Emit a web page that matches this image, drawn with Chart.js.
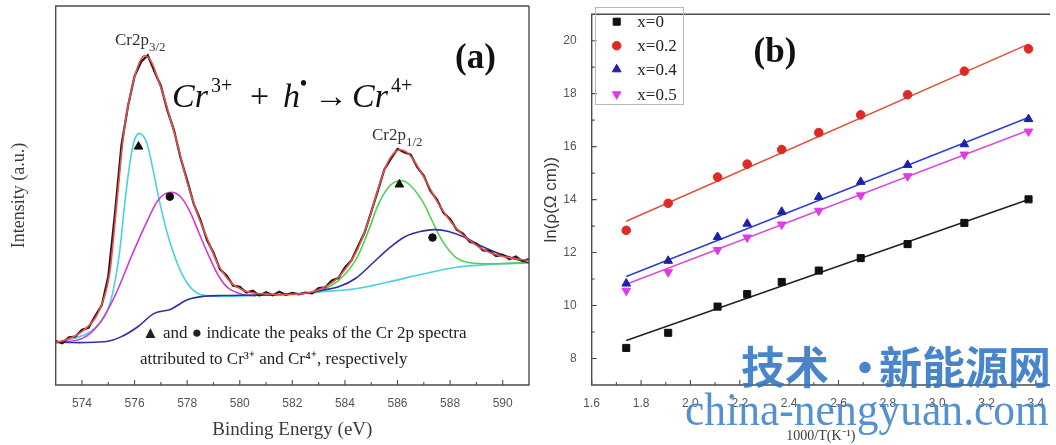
<!DOCTYPE html>
<html>
<head>
<meta charset="utf-8">
<script src="https://cdn.jsdelivr.net/npm/chart.js@4.4.0/dist/chart.umd.min.js"></script>
<style>
  html, body { margin: 0; padding: 0; background: #fff; }
  #wrap { position: relative; width: 1056px; height: 445px; overflow: hidden; }
  #chartA { position: absolute; left: 0; top: 0; }
  #chartB { position: absolute; left: 535px; top: 0; }
</style>
</head>
<body>
<div id="wrap">
  <canvas id="chartA" width="535" height="445"></canvas>
  <canvas id="chartB" width="521" height="445"></canvas>
</div>
<script>
// ---------- panel (a): Cr 2p spectrum ----------
const specEnergy = [573, 573.25, 573.5, 573.75, 574, 574.25, 574.5, 574.75, 575, 575.25, 575.5, 575.75,
  576, 576.25, 576.5, 576.75, 577, 577.25, 577.5, 577.75, 578, 578.25, 578.5, 578.75,
  579, 579.25, 579.5, 579.75, 580, 580.25, 580.5, 580.75, 581, 581.25, 581.5, 581.75,
  582, 582.25, 582.5, 582.75, 583, 583.25, 583.5, 583.75, 584, 584.25, 584.5, 584.75,
  585, 585.25, 585.5, 585.75, 586, 586.25, 586.5, 586.75, 587, 587.25, 587.5, 587.75,
  588, 588.25, 588.5, 588.75, 589, 589.25, 589.5, 589.75, 590, 590.25, 590.5, 590.75, 591];
const specCounts = [11.6, 11.0, 12.6, 12.8, 14.6, 15.1, 18.2, 21.0, 28.6, 45.0, 63.2, 73.6,
  81.5, 85.3, 87.0, 82.8, 78.9, 72.4, 67.2, 59.9, 54.0, 47.8, 43.6, 38.3,
  34.9, 30.5, 28.9, 26.2, 25.9, 24.4, 24.9, 23.6, 24.5, 23.7, 24.6, 23.8,
  24.3, 23.9, 24.4, 24.2, 25.6, 25.8, 27.6, 28.2, 31.0, 32.9, 36.6, 40.3,
  45.7, 51.2, 56.9, 59.7, 62.3, 61.4, 60.8, 57.5, 55.2, 51.2, 48.9, 45.4,
  43.8, 41.0, 39.9, 37.7, 37.3, 35.5, 35.4, 34.0, 34.4, 33.2, 33.9, 32.7, 33.2];

const fitEnergy = [573, 573.5, 574, 574.5, 574.85, 575.05, 575.16, 575.29, 575.42, 575.54, 575.67, 575.86,
  576.11, 576.36, 576.62, 576.87, 577.12, 577.38, 577.63, 578, 578.4, 578.8, 579.2, 579.7,
  580.2, 580.6, 581.6, 582.4, 583.1, 583.76, 584.4, 584.9, 585.28, 585.66, 586.04, 586.42,
  586.93, 587.56, 588.19, 588.82, 589.46, 590.09, 590.91, 591];
const fitCounts = [11.2, 12.2, 14.1, 17.6, 23.2, 29.4, 36, 45.5, 55, 63.5, 70.5, 77.3,
  83.8, 86.9, 85.5, 81.1, 75.9, 69.7, 63.6, 53.5, 45.0, 38.0, 31.5, 26.8,
  24.8, 24.2, 23.9, 24.1, 25.4, 28.5, 34.7, 43.4, 52.2, 59.2, 62.0, 61.0,
  55.7, 47.8, 41.7, 37.7, 35.1, 33.8, 32.9, 32.8];

const cr3aEnergy = [573, 574.21, 574.85, 575.16, 575.42, 575.61, 575.8, 575.99, 576.18, 576.43, 576.68, 576.94,
  577.25, 577.63, 578.01, 578.39, 578.8, 579.5, 580.5, 581.87, 583.13, 584.4, 585.66, 586.93,
  588.19, 589.46, 590.91, 591];
const cr3aCounts = [11.2, 13.6, 18.0, 24.1, 34.6, 46.9, 57.5, 64.5, 66.4, 64.5, 57.5, 48.7,
  39.9, 32.0, 26.8, 24.2, 23.5, 23.4, 23.6, 24.0, 24.6, 25.4, 27.2, 29.2,
  31.0, 31.8, 32.2, 32.2];

const cr4aEnergy = [573, 574.02, 574.66, 575.29, 575.92, 576.55, 576.93, 577.31, 577.7, 578.08, 578.46, 578.84,
  579.22, 579.59, 580.1, 580.6];
const cr4aCounts = [11.2, 12.3, 16.2, 24.1, 34.6, 44.3, 49.1, 50.8, 50.0, 46.1, 39.9, 33.8,
  28.5, 25.4, 23.9, 23.5];

const cr4bEnergy = [573, 574.85, 575.48, 576.11, 576.75, 577.38, 578.01, 578.64, 579.3, 580.3, 581.5, 582.5,
  583.13, 583.76, 584.4, 585.03, 585.66, 586.3, 586.93, 587.43, 587.94, 588.57, 589.2, 589.96,
  590.91, 591];
const cr4bCounts = [11.2, 11.4, 12.7, 15.3, 18.9, 20.0, 22.5, 23.4, 23.6, 23.7, 23.8, 24.2,
  25.0, 25.9, 28.1, 32.0, 36.0, 39.2, 40.6, 41.0, 40.5, 38.9, 36.6, 34.4,
  32.4, 32.3];

const cr3bEnergy = [582.8, 583.13, 583.76, 584.4, 584.9, 585.28, 585.66, 586.04, 586.42, 586.93, 587.31, 587.69,
  588.19, 588.7, 589.46, 590.2, 590.91, 591];
const cr3bCounts = [24.3, 25.0, 27.6, 32.9, 40.8, 47.8, 52.2, 53.9, 53.1, 48.7, 43.4, 38.2,
  33.8, 32.3, 32.0, 32.1, 32.3, 32.3];

const cr3PeakE = [576.15, 586.07];
const cr3PeakI = [62.9, 52.9];
const cr4PeakE = [577.34, 587.33];
const cr4PeakI = [49.7, 38.9];

const energyTicks = [574, 576, 578, 580, 582, 584, 586, 588, 590];
const energyMinor = [575, 577, 579, 581, 583, 585, 587, 589];

// ---------- panel (b): resistivity ----------
const invT = [1.74, 1.91, 2.11, 2.23, 2.37, 2.52, 2.69, 2.88, 3.11, 3.37];
const lnRho00 = [8.40, 8.97, 9.96, 10.43, 10.89, 11.32, 11.79, 12.32, 13.12, 14.01];
const lnRho02 = [12.84, 13.86, 14.85, 15.34, 15.89, 16.53, 17.20, 17.96, 18.85, 19.69];
const lnRho04 = [10.83, 11.69, 12.59, 13.09, 13.54, 14.10, 14.67, 15.31, 16.09, 17.04];
const lnRho05 = [10.56, 11.26, 12.10, 12.57, 13.06, 13.58, 14.16, 14.88, 15.70, 16.57];

const fitInvT = [1.74, 3.37];
const fit00 = [8.68, 14.0];
const fit02 = [13.18, 19.87];
const fit04 = [11.1, 17.1];
const fit05 = [10.8, 16.62];

const seriesNames = ["x=0", "x=0.2", "x=0.4", "x=0.5"];
const invTTicks = [1.6, 1.8, 2.0, 2.2, 2.4, 2.6, 2.8, 3.0, 3.2, 3.4];
const invTMinor = [1.7, 1.9, 2.1, 2.3, 2.5, 2.7, 2.9, 3.1, 3.3];
const lnTicks = [8, 10, 12, 14, 16, 18, 20];
const lnMinor = [9, 11, 13, 15, 17, 19];

const SERIF = "'Liberation Serif', 'Times New Roman', serif";
const SANS = "'Liberation Sans', Arial, sans-serif";

const pts = (xs, ys) => xs.map((x, i) => ({ x, y: ys[i] }));

// frame + inward tick marks
const frameTicks = {
  id: "frameTicks",
  afterDatasetsDraw(chart, args, opts) {
    const { ctx, chartArea: a, scales } = chart;
    ctx.save();
    ctx.strokeStyle = "#4b4b4b";
    ctx.lineWidth = 1.4;
    ctx.beginPath();
    ctx.moveTo(a.right, a.top); ctx.lineTo(a.left, a.top);
    ctx.lineTo(a.left, a.bottom); ctx.lineTo(a.right, a.bottom);
    if (opts.closed) ctx.lineTo(a.right, a.top);
    ctx.stroke();
    ctx.lineWidth = 1.1;
    ctx.beginPath();
    const xt = (list, len) => list.forEach(v => {
      const px = scales.x.getPixelForValue(v);
      ctx.moveTo(px, a.bottom); ctx.lineTo(px, a.bottom - len);
    });
    const yt = (list, len) => list.forEach(v => {
      const py = scales.y.getPixelForValue(v);
      ctx.moveTo(a.left, py); ctx.lineTo(a.left + len, py);
    });
    xt(opts.xMajor || [], 5); xt(opts.xMinor || [], 3);
    yt(opts.yMajor || [], 5); yt(opts.yMinor || [], 3);
    ctx.stroke();
    ctx.restore();
  }
};

// text annotations of panel (a)
const notesA = {
  id: "notesA",
  afterDraw(chart) {
    const ctx = chart.ctx;
    ctx.save();
    ctx.textBaseline = "alphabetic";
    ctx.fillStyle = "#333";
    const label = (main, sub, x, y) => {
      ctx.font = "17px " + SERIF;
      ctx.fillText(main, x, y);
      const w = ctx.measureText(main).width;
      ctx.font = "13px " + SERIF;
      ctx.fillText(sub, x + w, y + 6);
    };
    label("Cr2p", "3/2", 115, 45);
    label("Cr2p", "1/2", 372, 140);

    ctx.fillStyle = "#111";
    ctx.font = "bold 35px " + SERIF;
    ctx.fillText("(a)", 455, 68);

    const it = "italic 34px " + SERIF, up = "34px " + SERIF, sm = "20px " + SERIF;
    const piece = (t, f, x, y) => { ctx.font = f; ctx.fillText(t, x, y); };
    piece("Cr", it, 172, 107);
    piece("3+", sm, 211, 92);
    piece("+", up, 250, 107);
    piece("h", it, 283, 107);
    piece("\u2022", "bold 20px " + SERIF, 300, 90);
    piece("\u2192", up, 314, 107);
    piece("Cr", it, 352, 107);
    piece("4+", sm, 391, 92);

    ctx.fillStyle = "#222";
    ctx.font = "17px " + SERIF;
    ctx.fillText("\u25B2 and \u25CF indicate the peaks of the Cr 2p spectra", 142, 338, 362);
    ctx.fillText("attributed to Cr\u00B3\u207A and Cr\u2074\u207A, respectively", 140, 364, 296);
    ctx.restore();
  }
};

// legend box, label and watermark of panel (b)
const notesB = {
  id: "notesB",
  afterDraw(chart) {
    const ctx = chart.ctx;
    ctx.save();
    ctx.strokeStyle = "#b8b8b8";
    ctx.lineWidth = 1;
    ctx.strokeRect(60.5, 7.5, 88, 97);
    const rows = [21.7, 45.7, 69.3, 94.3];
    chart.data.datasets.filter(d => d.legendRow !== undefined).forEach(d => {
      const y = rows[d.legendRow];
      ctx.fillStyle = d.backgroundColor;
      ctx.strokeStyle = d.borderColor;
      Chart.helpers.drawPoint(ctx, { pointStyle: d.pointStyle, radius: d.pointRadius,
        rotation: d.pointRotation || 0, borderWidth: 1 }, 81.7, y);
      ctx.fillStyle = "#222";
      ctx.font = "17px " + SERIF;
      ctx.textBaseline = "middle";
      ctx.fillText(d.label, 102.3, y + 1);
    });

    ctx.fillStyle = "#111";
    ctx.textBaseline = "alphabetic";
    ctx.textAlign = "center";
    ctx.font = "bold 35px " + SERIF;
    ctx.fillText("(b)", 240, 62);

    ctx.fillStyle = "rgba(52,120,196,0.9)";
    ctx.textAlign = "left";
    ctx.textBaseline = "middle";
    ctx.font = "bold 44px 'Noto Sans CJK SC', sans-serif";
    ctx.fillText("\u6280\u672F", 206, 367);
    ctx.fillText("\u00B7", 308, 367);
    ctx.fillText("\u65B0\u80FD\u6E90\u7F51", 344, 367, 172);
    ctx.fillStyle = "rgba(66,132,204,0.9)";
    ctx.textBaseline = "alphabetic";
    ctx.font = "46px " + SERIF;
    ctx.fillText("china-nengyuan.com", 150, 425, 364);
    ctx.restore();
  }
};

const lineSet = (label, xs, ys, color, width, order, tension) => ({
  label, data: pts(xs, ys), showLine: true, borderColor: color, borderWidth: width,
  pointRadius: 0, tension, order, fill: false
});

new Chart(document.getElementById("chartA"), {
  type: "scatter",
  data: {
    datasets: [
      lineSet("fit", fitEnergy, fitCounts, "#e8524a", 1.6, 1, 0.35),
      lineSet("data", specEnergy, specCounts, "#2a1a1a", 2.2, 2, 0),
      lineSet("Cr3+ 2p3/2", cr3aEnergy, cr3aCounts, "#47d3e0", 1.6, 5, 0.35),
      lineSet("Cr4+ 2p3/2", cr4aEnergy, cr4aCounts, "#d23ad2", 1.6, 4, 0.35),
      lineSet("Cr4+ 2p1/2", cr4bEnergy, cr4bCounts, "#34309e", 1.6, 3, 0.35),
      lineSet("Cr3+ 2p1/2", cr3bEnergy, cr3bCounts, "#4fd24f", 1.6, 4, 0.35),
      { label: "Cr3+", data: pts(cr3PeakE, cr3PeakI), pointStyle: "triangle", pointRadius: 5,
        backgroundColor: "#111", borderColor: "#111", order: 0 },
      { label: "Cr4+", data: pts(cr4PeakE, cr4PeakI), pointStyle: "circle", pointRadius: 3.8,
        backgroundColor: "#111", borderColor: "#111", order: 0 }
    ]
  },
  options: {
    responsive: false, animation: false, devicePixelRatio: 1,
    layout: { padding: { left: 0, right: 5, top: 5, bottom: 0 } },
    plugins: { legend: { display: false }, tooltip: { enabled: false },
      frameTicks: { closed: true, xMajor: energyTicks, xMinor: energyMinor } },
    scales: {
      x: {
        type: "linear", min: 573, max: 591,
        grid: { display: false }, border: { display: false },
        afterBuildTicks: s => { s.ticks = energyTicks.map(v => ({ value: v })); },
        afterFit: s => { s.height = 60; },
        ticks: { color: "#555", padding: 3, font: { family: SANS, size: 12 }, maxRotation: 0 },
        title: { display: true, text: "Binding Energy (eV)", color: "#3a3a3a",
          font: { family: SERIF, size: 19 }, padding: { top: 0, bottom: 4 } }
      },
      y: {
        min: 0, max: 100,
        grid: { display: false }, border: { display: false },
        ticks: { display: false },
        afterFit: s => { s.width = 55.7; },
        title: { display: true, text: "Intensity (a.u.)", color: "#3a3a3a",
          font: { family: SERIF, size: 18 }, padding: { top: 8, bottom: 0 } }
      }
    }
  },
  plugins: [frameTicks, notesA]
});

const markSet = (label, ys, style, color, radius, row, rotation) => ({
  label, data: pts(invT, ys), pointStyle: style, pointRadius: radius, pointRotation: rotation || 0,
  backgroundColor: color, borderColor: color, borderWidth: 1, legendRow: row, order: 0
});

new Chart(document.getElementById("chartB"), {
  type: "scatter",
  data: {
    datasets: [
      markSet(seriesNames[0], lnRho00, "rect", "#111111", 5, 0),
      markSet(seriesNames[1], lnRho02, "circle", "#dd2a26", 4.3, 1),
      markSet(seriesNames[2], lnRho04, "triangle", "#1f1fa8", 5, 2),
      markSet(seriesNames[3], lnRho05, "triangle", "#e03ae6", 5, 3, 180),
      lineSet("fit0", fitInvT, fit00, "#222", 1.6, 1, 0),
      lineSet("fit2", fitInvT, fit02, "#e0503c", 1.6, 1, 0),
      lineSet("fit4", fitInvT, fit04, "#2f3fd2", 1.6, 1, 0),
      lineSet("fit5", fitInvT, fit05, "#d84ed8", 1.6, 1, 0)
    ]
  },
  options: {
    responsive: false, animation: false, devicePixelRatio: 1,
    layout: { padding: { left: 0, right: 0, top: 7.3, bottom: 0 } },
    plugins: { legend: { display: false }, tooltip: { enabled: false },
      frameTicks: { closed: false, xMajor: invTTicks, xMinor: invTMinor, yMajor: lnTicks, yMinor: lnMinor } },
    scales: {
      x: {
        type: "linear", min: 1.6, max: 3.457,
        grid: { display: false }, border: { display: false },
        afterBuildTicks: s => { s.ticks = invTTicks.map(v => ({ value: v })); },
        afterFit: s => { s.height = 60; },
        ticks: { color: "#555", padding: 3, font: { family: SANS, size: 12 }, maxRotation: 0,
          callback: v => v.toFixed(1) },
        title: { display: true, text: "1000/T(K\u207B\u00B9)", color: "#3a3a3a",
          font: { family: SERIF, size: 14 }, padding: { top: 0, bottom: 0 } }
      },
      y: {
        min: 7, max: 21,
        grid: { display: false }, border: { display: false },
        afterBuildTicks: s => { s.ticks = lnTicks.map(v => ({ value: v })); },
        afterFit: s => { s.width = 56.7; },
        ticks: { color: "#555", padding: 7, font: { family: SANS, size: 12 } },
        title: { display: true, text: "ln(\u03C1(\u03A9 cm))", color: "#3a3a3a",
          font: { family: SANS, size: 17 }, padding: { top: 6, bottom: 0 } }
      }
    }
  },
  plugins: [frameTicks, notesB]
});
</script>
</body>
</html>
